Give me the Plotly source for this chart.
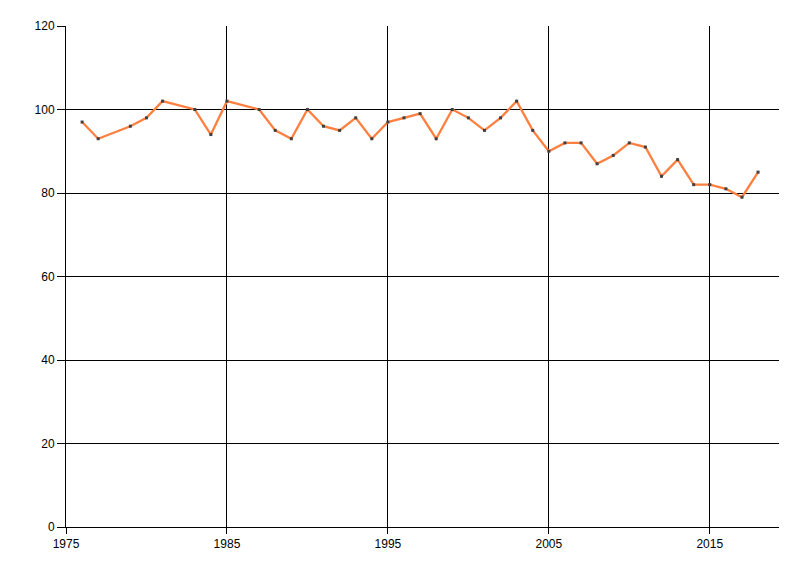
import plotly.graph_objects as go

years = [1976, 1977, 1979, 1980, 1981, 1983, 1984, 1985, 1987, 1988, 1989,
         1990, 1991, 1992, 1993, 1994, 1995, 1996, 1997, 1998, 1999, 2000,
         2001, 2002, 2003, 2004, 2005, 2006, 2007, 2008, 2009, 2010, 2011,
         2012, 2013, 2014, 2015, 2016, 2017, 2018]
values = [97, 93, 96, 98, 102, 100, 94, 102, 100, 95, 93,
          100, 96, 95, 98, 93, 97, 98, 99, 93, 100, 98,
          95, 98, 102, 95, 90, 92, 92, 87, 89, 92, 91,
          84, 88, 82, 82, 81, 79, 85]
x_ticks = [1975, 1985, 1995, 2005, 2015]
y_ticks = [0, 20, 40, 60, 80, 100, 120]

fig = go.Figure()
fig.add_trace(go.Scatter(
    x=years, y=values, mode="lines+markers",
    line=dict(color="#FF7F3F", width=2.3),
    marker=dict(color="#404040", size=3, symbol="square"),
    showlegend=False,
))

font = dict(family="Liberation Sans Narrow, Arial Narrow, Liberation Sans, sans-serif", size=12, color="#000000")
fig.update_layout(
    width=784, height=560,
    margin=dict(l=58, r=13, t=18, b=41),
    paper_bgcolor="white", plot_bgcolor="white",
    font=font,
    xaxis=dict(range=[1975, 2019.3], tickvals=x_ticks, showgrid=True, gridcolor="black", gridwidth=1,
               showline=True, linecolor="black", linewidth=1, ticks="outside", ticklen=6,
               tickcolor="black", zeroline=False, fixedrange=True),
    yaxis=dict(range=[0, 120], tickvals=y_ticks, showgrid=True, gridcolor="black", gridwidth=1,
               showline=True, linecolor="black", linewidth=1, ticks="outside", ticklen=8,
               tickcolor="black", zeroline=False, fixedrange=True),
)
fig.write_html("out.html")
